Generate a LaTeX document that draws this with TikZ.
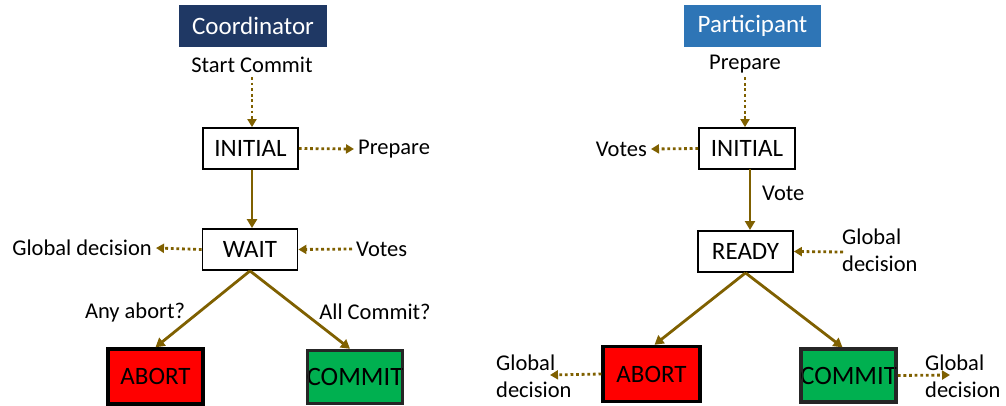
\documentclass[tikz,border=0pt]{standalone}
\usepackage{fontspec}
\setmainfont{Carlito}
\usetikzlibrary{arrows.meta}
\definecolor{navy}{HTML}{1F3864}
\definecolor{steel}{HTML}{2E75B6}
\definecolor{olive}{HTML}{7F6000}
\definecolor{abortred}{HTML}{FF0000}
\definecolor{commitgreen}{HTML}{00B050}
\tikzset{
  header/.style={minimum height=42pt, inner sep=0pt, text=white, font=\fontsize{25}{28}\selectfont},
  state/.style={draw=black, line width=1.8pt, fill=white, inner sep=0pt, minimum width=95pt, minimum height=41pt, font=\fontsize{25}{28}\selectfont},
  abortbox/.style={state, fill=abortred, line width=3.4pt, minimum height=55pt},
  commitbox/.style={state, draw=black!85, line width=2.4pt, fill=commitgreen, minimum height=54pt, font=\fontsize{26.5}{28}\selectfont},
  innerline/.style={draw=black!85, line width=0.9pt},
  lbl/.style={inner sep=4pt, font=\fontsize{22.5}{26}\selectfont},
  lbl2/.style={lbl, align=left, font=\fontsize{22.5}{27}\selectfont},
  flow/.style={draw=olive, line width=2.8pt, -{Triangle[length=9pt,width=10pt]}},
  msg/.style={draw=olive, line width=2.8pt, dash pattern=on 2.8pt off 2.8pt, -{Triangle[length=8pt,width=9pt]}},
}
\begin{document}
\begin{tikzpicture}[x=1pt, y=-1pt]
\useasboundingbox (0,0) rectangle (1006,406);

% ---- Coordinator ----
\node[header, fill=navy, minimum width=148pt] (coord) at (253,26) {Coordinator};
\node[lbl] (startc) at (252,65) {Start Commit};
\node[state] (cinit) at (250.5,148.5) {INITIAL};
\node[lbl, anchor=west] (cprep) at (354,149) {Prepare};
\node[state] (cwait) at (250,249.5) {WAIT};
\node[lbl, anchor=east] (cglob) at (156,248) {Global decision};
\node[lbl, anchor=west] (cvotes) at (352,249) {Votes};
\node[lbl] (anyab) at (135,312) {Any abort?};
\node[lbl] (allcm) at (375,312) {All Commit?};
\node[abortbox, minimum width=95pt] (cabort) at (155.5,376.5) {ABORT};
\node[commitbox, minimum width=96pt] (ccommit) at (355,377) {COMMIT};
% inner line of the double border
\draw[innerline] ([shift={(3,3)}]ccommit.north west) rectangle ([shift={(-3,-3)}]ccommit.south east);

\draw[msg] (startc.south) -- (startc.south |- cinit.north);
\draw[msg] (cinit.east) -- (cprep.west);
\draw[flow] (cinit.south -| startc.south) -- (cwait.north -| startc.south);
\draw[msg] (cwait.west) -- (cglob.east);
\draw[msg] (cvotes.west) -- (cwait.east);
\draw[flow] (cwait.south) -- (cabort.north);
\draw[flow] (cwait.south) -- ([xshift=-5pt]ccommit.north);

% ---- Participant ----
\node[header, fill=steel, minimum width=137pt] (part) at (752.5,26) {Participant};
\node[lbl] (pprep) at (745,64) {Prepare};
\node[state, minimum width=96pt] (pinit) at (747,148.5) {INITIAL};
\node[lbl, anchor=east] (pvotes) at (651,149) {Votes};
\node[lbl, anchor=west] (vote) at (758,193) {Vote};
\node[state] (pready) at (745.5,251.5) {READY};
\node[lbl2, anchor=west] (rglob) at (838,250) {Global\\decision};
\node[abortbox, minimum width=97pt] (pabort) at (651.5,374) {ABORT};
\node[commitbox, minimum width=95pt] (pcommit) at (848.5,375.5) {COMMIT};
\draw[innerline] ([shift={(3,3)}]pcommit.north west) rectangle ([shift={(-3,-3)}]pcommit.south east);
\node[lbl2, anchor=west] (aglob) at (492,376) {Global\\decision};
\node[lbl2, anchor=west] (mglob) at (921,376) {Global\\decision};
\coordinate (rin) at (843,252);
\coordinate (aout) at (550,375);
\coordinate (mout) at (950,375);

\draw[msg] (pprep.south) -- (pprep.south |- pinit.north);
\draw[msg] (pinit.west) -- (pvotes.east);
\draw[flow] (750,169.5) -- (750,230);
\draw[msg] (rin) -- (pready.east);
\draw[flow] (pready.south) -- ([xshift=3pt]pabort.north);
\draw[flow] (pready.south) -- ([xshift=-6pt]pcommit.north);
\draw[msg] (pabort.west) -- (aout);
\draw[msg] (pcommit.east) -- (mout);
\end{tikzpicture}
\end{document}
